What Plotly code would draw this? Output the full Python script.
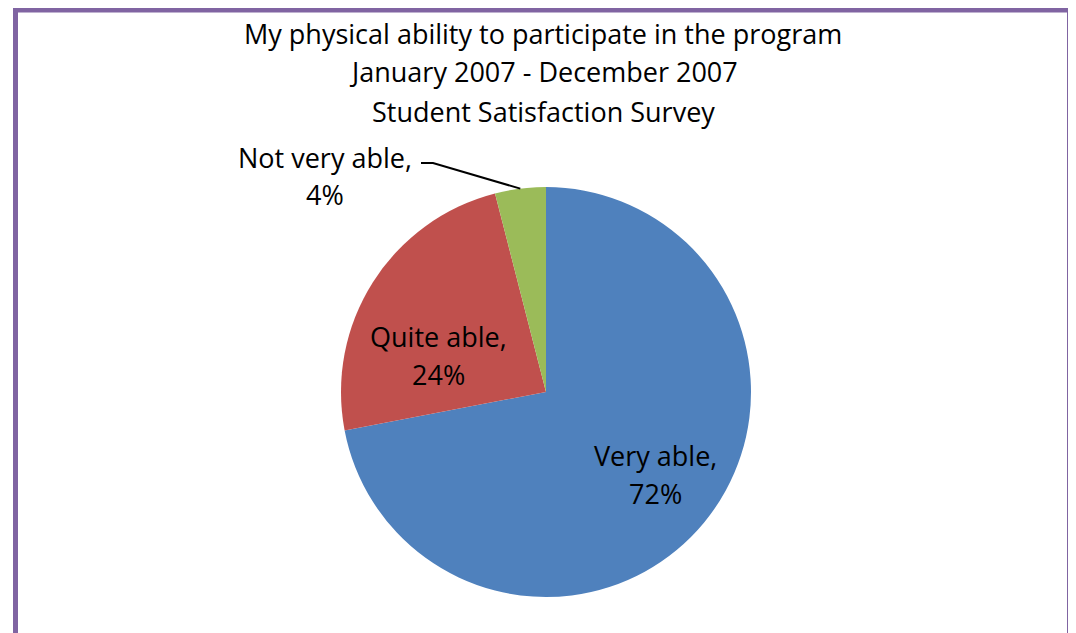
import math
import plotly.graph_objects as go

# Survey results
labels = ["Very able", "Quite able", "Not very able"]
values = [72, 24, 4]
colors = ["#4F81BD", "#C0504D", "#9BBB59"]
title_lines = [
    "My physical ability to participate in the program",
    "January 2007 - December 2007",
    "Student Satisfaction Survey",
]

W, H = 1076, 633
OFF = 8  # page body margin that shifts the figure
M = dict(l=128, r=128, t=179, b=44)
plot_w = W - M["l"] - M["r"]
plot_h = H - M["t"] - M["b"]
FONT = "Open Sans"
FSIZE = 27

# label centres (page px) for the two lines of each slice label
LABEL_POS = {
    "Very able": (655, 455, 493),
    "Quite able": (438, 336, 374),
    "Not very able": (325, 158, 194),
}


def px_x(px):
    return (px - OFF - M["l"]) / plot_w


def px_y(py):
    return 1 - (py - OFF - M["t"]) / plot_h


def text_ann(text, x, y):
    return dict(
        text=text,
        x=px_x(x),
        y=px_y(y),
        xref="paper",
        yref="paper",
        showarrow=False,
        font=dict(family=FONT, size=FSIZE, color="black"),
        xanchor="center",
        yanchor="middle",
    )


fig = go.Figure()
fig.add_trace(
    go.Pie(
        labels=labels,
        values=values,
        sort=False,
        direction="clockwise",
        rotation=0,
        marker=dict(colors=colors, line=dict(width=0)),
        textinfo="none",
        showlegend=False,
        hoverinfo="label+percent",
    )
)

annotations = []
for i, line in enumerate(title_lines):
    annotations.append(text_ann(line, 543, 33 + i * 39))

total = sum(values)
for lab, val in zip(labels, values):
    x, y1, y2 = LABEL_POS[lab]
    annotations.append(text_ann(f"{lab},", x, y1))
    annotations.append(text_ann(f"{round(100 * val / total)}%", x, y2))

# leader line for the small slice, ending at the middle of its arc
mid = (sum(values[:2]) + values[2] / 2) / total * 2 * math.pi
r = plot_h / 2
tip_x = 0.5 + r * math.sin(mid) / plot_w
tip_y = 0.5 + r * math.cos(mid) / plot_h
leader = dict(
    type="path",
    xref="paper",
    yref="paper",
    path=f"M {px_x(421)},{px_y(163)} L {px_x(433)},{px_y(163)} L {tip_x},{tip_y}",
    line=dict(color="black", width=2),
)

fig.update_layout(
    width=W,
    height=H,
    margin=M,
    paper_bgcolor="white",
    plot_bgcolor="white",
    annotations=annotations,
    shapes=[
        leader,
        dict(
            type="rect",
            xref="paper",
            yref="paper",
            x0=px_x(15.5),
            x1=px_x(1069.5),
            y0=px_y(680),
            y1=px_y(10),
            line=dict(color="#8064A2", width=5),
        ),
    ],
)

fig.write_html("out.html")
